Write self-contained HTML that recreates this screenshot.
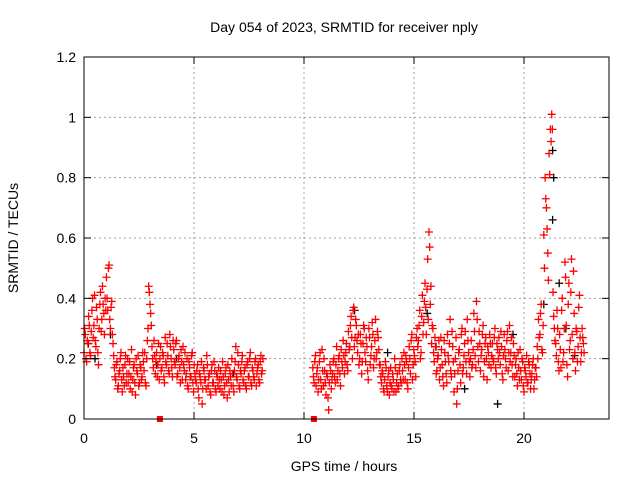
<!DOCTYPE html>
<html><head><meta charset="utf-8"><style>
body{margin:0;background:#fff}
svg{display:block;font-family:"Liberation Sans",sans-serif;font-size:14px}
</style></head><body>
<svg id="chart" width="640" height="480" viewBox="0 0 640 480">
<text x="344" y="32" text-anchor="middle">Day 054 of 2023, SRMTID for receiver nply</text>
<text x="344" y="471" text-anchor="middle">GPS time / hours</text>
<text x="18" y="238" text-anchor="middle" transform="rotate(-90 18 238)">SRMTID / TECUs</text>
<g id="grid"></g>
<g id="marks"></g>
<rect x="84" y="57" width="525" height="362" fill="none" stroke="#000" stroke-width="1"/>
<g id="axes"></g>
</svg>
<script>
const xTicks=[0,5,10,15,20];
const yTicks=[0,0.2,0.4,0.6,0.8,1,1.2];
const yTickLabels=["0","0.2","0.4","0.6","0.8","1","1.2"];
const seg1Start=0, seg1bStart=0.03, seg1Step=0.06;
const seg1Values=[0.22,0.28,0.19,0.25,0.31,0.21,0.36,0.27,0.41,0.24,0.33,0.18,0.38,0.29,0.44,0.35,0.40,
0.47,0.36,0.51,0.30,0.39,0.25,0.17,0.13,0.19,0.11,0.16,0.22,0.09,0.14,0.18,0.12,0.20,
0.15,0.10,0.23,0.13,0.18,0.08,0.16,0.21,0.12,0.17,0.14,0.19,0.22,0.11,0.26,0.44,0.38,
0.31,0.20,0.26,0.15,0.22,0.18,0.13,0.24,0.17,0.21,0.12,0.19,0.25,0.16,0.28,0.20,0.14,
0.23,0.18,0.26,0.15,0.21,0.12,0.19,0.24,0.16,0.13,0.20,0.10,0.17,0.14,0.22,0.09,0.15,
0.12,0.18,0.07,0.14,0.19,0.10,0.16,0.13,0.21,0.11,0.15,0.08,0.18,0.12,0.16,0.09,0.14,
0.17,0.10,0.13,0.19,0.08,0.15,0.12,0.18,0.09,0.14,0.20,0.11,0.16,0.24,0.13,0.18,0.10,
0.15,0.21,0.12,0.17,0.10,0.19,0.14,0.22,0.11,0.16,0.13,0.20,0.15,0.18,0.12,0.21,0.16];
const seg1bValues=[0.30,0.20,0.26,0.34,0.22,0.29,0.40,0.31,0.26,0.37,0.22,0.30,0.42,0.33,0.38,0.28,0.36,
0.40,0.50,0.33,0.37,0.28,0.21,0.14,0.18,0.10,0.15,0.20,0.13,0.17,0.11,0.21,0.15,0.12,
0.19,0.14,0.09,0.17,0.12,0.20,0.15,0.11,0.18,0.13,0.22,0.16,0.12,0.20,0.30,0.42,0.35,
0.24,0.17,0.21,0.19,0.14,0.25,0.20,0.16,0.22,0.14,0.27,0.18,0.21,0.15,0.24,0.17,0.26,
0.19,0.25,0.14,0.20,0.17,0.23,0.13,0.18,0.22,0.15,0.11,0.19,0.14,0.21,0.12,0.18,0.13,
0.16,0.10,0.15,0.12,0.05,0.17,0.13,0.10,0.18,0.14,0.09,0.16,0.12,0.19,0.10,0.15,0.11,
0.13,0.16,0.09,0.14,0.11,0.17,0.07,0.13,0.16,0.11,0.15,0.09,0.19,0.14,0.22,0.11,0.16,
0.19,0.13,0.16,0.11,0.18,0.14,0.20,0.12,0.17,0.14,0.19,0.11,0.17,0.13,0.19,0.15,0.20];
const seg2Start=10.4, seg2bStart=10.43, seg2Step=0.06;
const seg2Values=[0.17,0.12,0.21,0.15,0.09,0.19,0.13,0.23,0.11,0.16,0.08,0.14,0.03,0.18,0.10,0.15,0.20,
0.12,0.24,0.16,0.21,0.11,0.19,0.26,0.15,0.22,0.18,0.29,0.24,0.34,0.20,0.37,0.27,0.31,
0.22,0.18,0.28,0.15,0.25,0.30,0.19,0.24,0.13,0.27,0.21,0.32,0.17,0.26,0.20,0.29,0.23,
0.18,0.12,0.15,0.09,0.19,0.11,0.14,0.08,0.17,0.10,0.13,0.20,0.09,0.15,0.11,0.18,0.12,
0.16,0.22,0.13,0.19,0.10,0.24,0.15,0.28,0.18,0.21,0.14,0.30,0.26,0.36,0.22,0.41,0.32,
0.45,0.28,0.53,0.62,0.38,0.25,0.30,0.19,0.24,0.16,0.21,0.13,0.27,0.18,0.11,0.22,0.15,
0.28,0.19,0.33,0.14,0.24,0.09,0.20,0.05,0.16,0.23,0.12,0.30,0.17,0.25,0.19,0.33,0.22,
0.14,0.26,0.18,0.35,0.21,0.39,0.24,0.29,0.16,0.23,0.31,0.19,0.27,0.13,0.22,0.28,0.17,
0.25,0.19,0.30,0.15,0.23,0.27,0.18,0.24,0.13,0.28,0.20,0.26,0.16,0.31,0.22,0.18,0.25,
0.14,0.20,0.11,0.17,0.23,0.13,0.19,0.09,0.16,0.21,0.12,0.18,0.10,0.15,0.20,0.13,0.17,
0.24,0.33,0.28,0.38,0.22,0.61,0.80,0.70,0.55,0.88,0.96,1.01,0.42,0.30,0.25,0.36,0.19,
0.28,0.17,0.40,0.22,0.52,0.31,0.14,0.45,0.26,0.53,0.20,0.35,0.16,0.29,0.24,0.41,0.19,
0.30,0.25];
const seg2bValues=[0.14,0.19,0.11,0.17,0.13,0.22,0.10,0.16,0.20,0.12,0.15,0.07,0.12,0.16,0.13,0.19,0.14,
0.18,0.13,0.20,0.15,0.23,0.17,0.21,0.19,0.25,0.16,0.23,0.31,0.27,0.36,0.24,0.33,0.26,
0.28,0.20,0.25,0.19,0.31,0.22,0.27,0.16,0.30,0.18,0.24,0.28,0.20,0.33,0.22,0.27,0.18,
0.14,0.16,0.10,0.13,0.17,0.09,0.16,0.12,0.11,0.15,0.09,0.17,0.12,0.10,0.16,0.13,0.20,
0.13,0.18,0.21,0.12,0.17,0.20,0.26,0.13,0.23,0.19,0.27,0.24,0.31,0.20,0.34,0.28,0.39,
0.37,0.43,0.33,0.57,0.44,0.31,0.22,0.27,0.15,0.20,0.26,0.17,0.23,0.14,0.26,0.19,0.12,
0.21,0.25,0.16,0.29,0.19,0.15,0.27,0.10,0.22,0.18,0.28,0.15,0.21,0.29,0.15,0.26,0.19,
0.20,0.17,0.23,0.29,0.17,0.33,0.19,0.25,0.21,0.28,0.14,0.25,0.20,0.24,0.18,0.25,0.21,
0.20,0.27,0.17,0.25,0.20,0.22,0.29,0.15,0.21,0.23,0.17,0.29,0.22,0.19,0.27,0.14,0.21,
0.18,0.15,0.22,0.13,0.16,0.20,0.11,0.17,0.14,0.12,0.19,0.15,0.13,0.18,0.10,0.17,0.14,
0.20,0.27,0.35,0.23,0.31,0.50,0.73,0.63,0.46,0.81,0.92,0.96,0.34,0.26,0.21,0.30,0.16,
0.23,0.36,0.19,0.30,0.47,0.18,0.38,0.23,0.42,0.28,0.49,0.22,0.30,0.19,0.37,0.27,0.22,
0.27,0.22];
const blackTimes=[0.2,0.5,1.2,3.3,4.2,6.8,12.3,13.8,15.6,16.0,18.8,19.5,20.9,21.3,21.35,21.3,21.6,21.9,22.3,17.3];
const blackValues=[0.25,0.2,0.28,0.18,0.2,0.15,0.36,0.22,0.35,0.24,0.05,0.28,0.38,0.66,0.8,0.89,0.45,0.3,0.21,0.1];
const zeroTimes=[3.45,10.45];
const zeroValues=[0,0];

const X=t=>84+t*22;
const Y=v=>419-v*(362/1.2);
const NS="http://www.w3.org/2000/svg";
const grid=document.getElementById('grid'),marks=document.getElementById('marks'),axes=document.getElementById('axes');
function mk(tag,attrs,parent){const e=document.createElementNS(NS,tag);for(const k in attrs)e.setAttribute(k,attrs[k]);parent.appendChild(e);return e;}
yTicks.forEach((v,i)=>{
  const y=Y(v);
  if(i>0&&i<yTicks.length-1){const g=mk('line',{x1:84,x2:609,y1:y,y2:y,stroke:'#a0a0a0','stroke-dasharray':'2,3'},grid);
  
  }
  mk('line',{x1:84,x2:91,y1:y,y2:y,stroke:'#000'},axes);
  mk('line',{x1:602,x2:609,y1:y,y2:y,stroke:'#000'},axes);
  const t=mk('text',{x:76,y:y+5,'text-anchor':'end'},axes);t.textContent=yTickLabels[i];
  
  
});
xTicks.forEach(v=>{
  const x=X(v);
  if(v>0){const g=mk('line',{x1:x,x2:x,y1:57,y2:419,stroke:'#a0a0a0','stroke-dasharray':'2,3'},grid);
  
  }
  mk('line',{x1:x,x2:x,y1:412,y2:419,stroke:'#000'},axes);
  mk('line',{x1:x,x2:x,y1:57,y2:64,stroke:'#000'},axes);
  const t=mk('text',{x:x,y:443,'text-anchor':'middle'},axes);t.textContent=String(v);
  
  
});
function plus(t,v,color){
  const x=X(t),y=Y(v);
  const p=mk('path',{d:`M${x-4} ${y}H${x+4}M${x} ${y-4}V${y+4}`,stroke:color,'stroke-width':1.3,fill:'none'},marks);
  
  
}
blackValues.forEach((v,i)=>plus(blackTimes[i],v,'#000'));
seg1Values.forEach((v,i)=>plus(seg1Start+i*seg1Step,v,'#f00'));
seg1bValues.forEach((v,i)=>plus(seg1bStart+i*seg1Step,v,'#f00'));
seg2Values.forEach((v,i)=>plus(seg2Start+i*seg2Step,v,'#f00'));
seg2bValues.forEach((v,i)=>plus(seg2bStart+i*seg2Step,v,'#f00'));
zeroValues.forEach((v,i)=>{
  const r=mk('rect',{x:X(zeroTimes[i])-3,y:Y(v)-3,width:6,height:6,fill:'#f00'},marks);
  
  
});
</script>
</body></html>
